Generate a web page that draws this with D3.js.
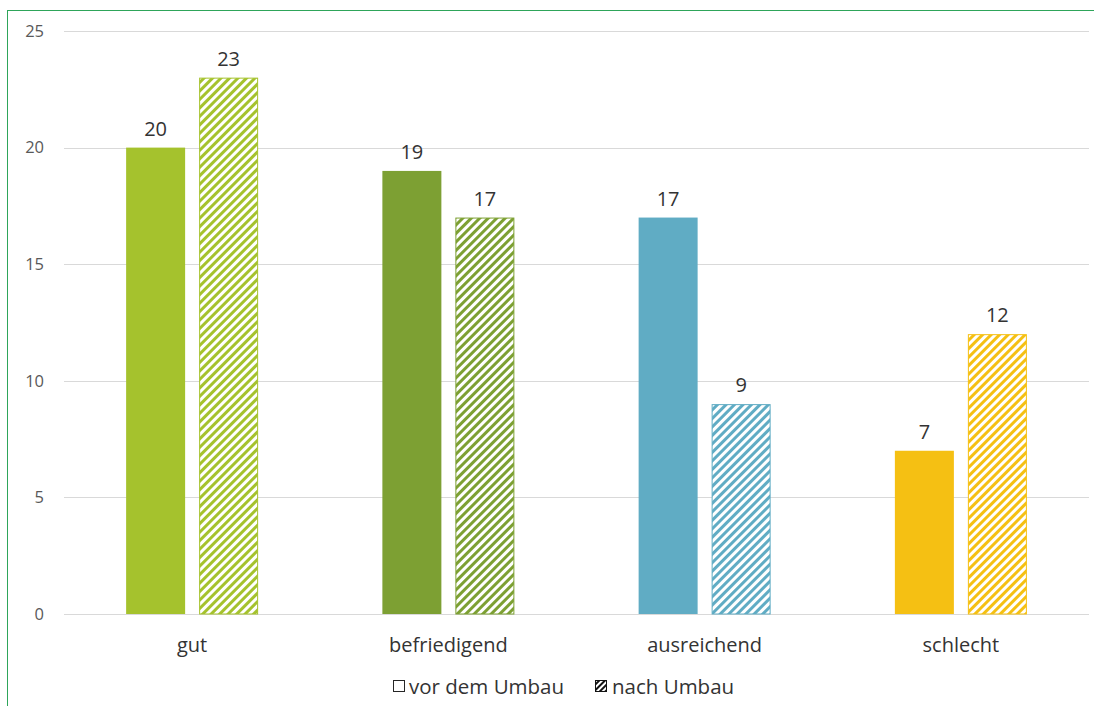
<!DOCTYPE html>
<html><head><meta charset="utf-8">
<script src="https://cdn.jsdelivr.net/npm/d3@7"></script>
<style>body{margin:0;background:#fff;}svg{display:block;font-family:"Open Sans","Noto Sans",sans-serif;}</style>
</head><body>
<svg id="c" width="1094" height="706"></svg>
<script>
const categories = ["gut","befriedigend","ausreichend","schlecht"];
const vorValues = [20,19,17,7];
const nachValues = [23,17,9,12];
const colors = ["#A5C22D","#7DA033","#60ACC4","#F5C013"];
const yTicks = [0,5,10,15,20,25];
const seriesNames = ["vor dem Umbau","nach Umbau"];

const svg = d3.select("#c");
const W=1094,H=706;
const m={left:64,right:1089,top:31,bottom:614};
const x = d3.scaleBand().domain(categories).range([m.left,m.right]);
const y = d3.scaleLinear().domain([0,25]).range([m.bottom,m.top]);

// frame lines
svg.append("line").attr("x1",7).attr("x2",W).attr("y1",10.5).attr("y2",10.5).attr("stroke","#2EA55A").attr("stroke-width",1);
svg.append("line").attr("x1",7.5).attr("x2",7.5).attr("y1",10).attr("y2",H).attr("stroke","#2EA55A").attr("stroke-width",1);

const defs = svg.append("defs");
colors.forEach((c,i)=>{
  const p = defs.append("pattern").attr("id","h"+i).attr("patternUnits","userSpaceOnUse")
    .attr("width",6).attr("height",6).attr("patternTransform","rotate(45)");
  p.append("rect").attr("width",6).attr("height",6).attr("fill","#fff");
  p.append("rect").attr("x",0).attr("width",3).attr("height",6).attr("fill",c);
});
const pk = defs.append("pattern").attr("id","hk").attr("patternUnits","userSpaceOnUse")
  .attr("width",4).attr("height",4).attr("patternTransform","rotate(45)");
pk.append("rect").attr("width",4).attr("height",4).attr("fill","#fff");
pk.append("rect").attr("width",2).attr("height",4).attr("fill","#111");

// grid
svg.append("g").selectAll("line").data(yTicks).join("line")
  .attr("x1",m.left).attr("x2",m.right)
  .attr("y1",d=>Math.round(y(d))+0.5).attr("y2",d=>Math.round(y(d))+0.5)
  .attr("stroke","#D9D9D9").attr("stroke-width",1);

// y labels
svg.append("g").selectAll("text").data(yTicks).join("text")
  .attr("x",44).attr("y",d=>y(d)).attr("dy","0.35em").attr("text-anchor","end")
  .attr("font-size",16.5).attr("fill","#595959").text(d=>d);

const bw=59, off=36.5;
const g = svg.append("g");
categories.forEach((cat,i)=>{
  const cx = x(cat)+x.bandwidth()/2;
  g.append("rect").attr("x",cx-off-bw/2).attr("width",bw)
    .attr("y",y(vorValues[i])).attr("height",y(0)-y(vorValues[i])).attr("fill",colors[i]);
  g.append("rect").attr("x",cx+off-bw/2+0.5).attr("width",bw-1)
    .attr("y",y(nachValues[i])+0.5).attr("height",y(0)-y(nachValues[i])-0.5)
    .attr("fill","url(#h"+i+")").attr("stroke",colors[i]).attr("stroke-width",1);
  g.append("text").attr("x",cx-off).attr("y",y(vorValues[i])-12).attr("text-anchor","middle")
    .attr("font-size",20).attr("fill","#333").text(vorValues[i]);
  g.append("text").attr("x",cx+off).attr("y",y(nachValues[i])-12).attr("text-anchor","middle")
    .attr("font-size",20).attr("fill","#333").text(nachValues[i]);
  g.append("text").attr("x",cx).attr("y",652).attr("text-anchor","middle")
    .attr("font-size",20).attr("fill","#333").text(cat);
});

// legend
const lg = svg.append("g");
lg.append("rect").attr("x",393.5).attr("y",680.5).attr("width",11).attr("height",11).attr("fill","#fff").attr("stroke","#262626");
lg.append("text").attr("x",409).attr("y",694).attr("font-size",20.5).attr("fill","#333").text(seriesNames[0]);
lg.append("rect").attr("x",595.5).attr("y",680.5).attr("width",11).attr("height",11).attr("fill","url(#hk)").attr("stroke","#111");
lg.append("text").attr("x",612).attr("y",694).attr("font-size",20.5).attr("fill","#333").text(seriesNames[1]);
</script>
</body></html>
